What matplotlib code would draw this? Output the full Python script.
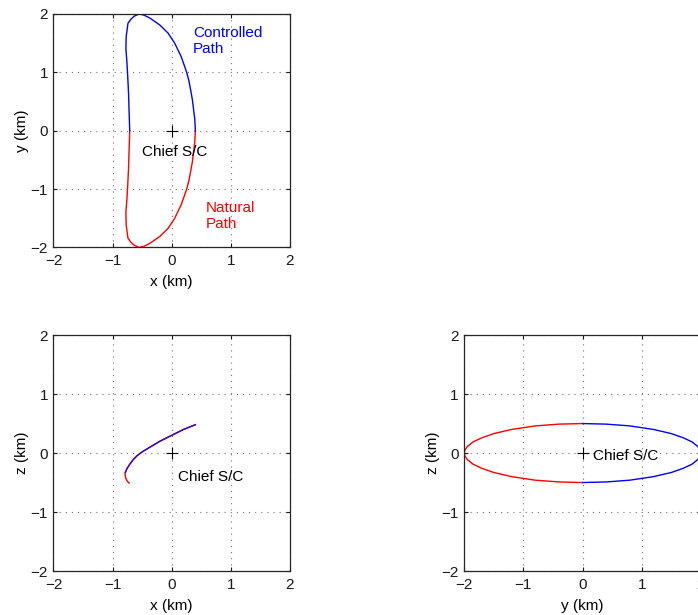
import matplotlib
matplotlib.use('Agg')
import matplotlib.pyplot as plt

plt.rcParams['font.family'] = ['Liberation Sans', 'DejaVu Sans']
plt.rcParams['font.size'] = 11

# x-y plane (km)
xy_ctrl_x = [0.40, 0.39, 0.37, 0.35, 0.32, 0.29, 0.25, 0.16, 0.05, -0.06, -0.20, -0.37,
             -0.47, -0.55, -0.63, -0.69, -0.74, -0.77, -0.775, -0.76, -0.745, -0.73,
             -0.72, -0.71]
xy_ctrl_y = [0.00, 0.20, 0.36, 0.53, 0.70, 0.86, 1.01, 1.27, 1.50, 1.67, 1.81, 1.93,
             1.98, 2.00, 1.965, 1.91, 1.84, 1.61, 1.40, 1.21, 0.95, 0.64,
             0.30, 0.00]
xy_nat_x = [-0.71, -0.72, -0.73, -0.745, -0.76, -0.775, -0.77, -0.74, -0.69, -0.63, -0.55,
            -0.47, -0.37, -0.20, -0.06, 0.05, 0.16, 0.25, 0.29, 0.32, 0.35, 0.37,
            0.39, 0.40]
xy_nat_y = [0.00, -0.30, -0.64, -0.95, -1.21, -1.40, -1.61, -1.84, -1.91, -1.965, -2.00,
            -1.98, -1.93, -1.81, -1.67, -1.50, -1.27, -1.01, -0.86, -0.70, -0.53, -0.36,
            -0.20, 0.00]

# x-z plane (km)
xz_nat_x = [0.40, 0.30, 0.20, 0.10, 0.00, -0.10, -0.20, -0.30, -0.40, -0.50, -0.58,
            -0.65, -0.71, -0.76, -0.79, -0.78, -0.75, -0.72]
xz_nat_z = [0.48, 0.44, 0.40, 0.35, 0.30, 0.25, 0.20, 0.14, 0.08, 0.02, -0.04,
            -0.11, -0.19, -0.27, -0.35, -0.42, -0.48, -0.51]
xz_ctrl_x = [0.40, 0.30, 0.20, 0.10, 0.00, -0.10, -0.20, -0.30, -0.40, -0.50, -0.58,
             -0.65, -0.71, -0.76, -0.785]
xz_ctrl_z = [0.48, 0.44, 0.40, 0.35, 0.30, 0.25, 0.20, 0.14, 0.08, 0.02, -0.04,
             -0.11, -0.19, -0.27, -0.33]

# y-z plane (km)
yz_ctrl_y = [0.0, 0.4, 0.8, 1.2, 1.5, 1.7, 1.85, 1.95, 1.99, 2.0,
             1.99, 1.95, 1.85, 1.7, 1.5, 1.2, 0.8, 0.4, 0.0]
yz_ctrl_z = [0.50, 0.49, 0.46, 0.40, 0.33, 0.26, 0.19, 0.11, 0.05, 0.00,
             -0.05, -0.11, -0.19, -0.26, -0.33, -0.40, -0.46, -0.49, -0.50]
yz_nat_y = [0.0, -0.4, -0.8, -1.2, -1.5, -1.7, -1.85, -1.95, -1.99, -2.0,
            -1.99, -1.95, -1.85, -1.7, -1.5, -1.2, -0.8, -0.4, 0.0]
yz_nat_z = [0.50, 0.49, 0.46, 0.40, 0.33, 0.26, 0.19, 0.11, 0.05, 0.00,
            -0.05, -0.11, -0.19, -0.26, -0.33, -0.40, -0.46, -0.49, -0.50]

ticks = [-2, -1, 0, 1, 2]

fig = plt.figure(figsize=(6.98, 6.15), dpi=100)
ax1 = fig.add_axes([0.0766, 0.5976, 0.3388, 0.3797])
ax2 = fig.add_axes([0.0766, 0.0715, 0.3388, 0.3837])
ax3 = fig.add_axes([0.6652, 0.0715, 0.3388, 0.3837])


def style(ax, xlabel, ylabel):
    ax.set_xlim(-2, 2)
    ax.set_ylim(-2, 2)
    ax.set_xticks(ticks)
    ax.set_yticks(ticks)
    ax.tick_params(direction='in', length=3, top=True, right=True, labelsize=11,
                   colors='0.1')
    ax.tick_params(axis='x', pad=5)
    ax.tick_params(axis='y', pad=4)
    ax.grid(True, linestyle=(0, (1, 4.5)), color='0.45', linewidth=0.8)
    for s in ax.spines.values():
        s.set_linewidth(0.9)
        s.set_color('0.15')
    ax.set_xlabel(xlabel, labelpad=5)
    ax.set_ylabel(ylabel, labelpad=1)
    ax.plot([0], [0], marker='+', color='k', markersize=8, markeredgewidth=0.8)


ax1.plot(xy_nat_x, xy_nat_y, color='red', lw=1)
ax1.plot(xy_ctrl_x, xy_ctrl_y, color='blue', lw=1)
style(ax1, 'x (km)', 'y (km)')
ax1.text(-0.51, -0.43, 'Chief S/C', va='baseline')
ax1.text(0.36, 1.80, 'Controlled\nPath', color='blue', va='top', linespacing=1.2)
ax1.text(0.57, -1.2, 'Natural\nPath', color='red', va='top', linespacing=1.2)

ax2.plot(xz_nat_x, xz_nat_z, color='red', lw=1)
ax2.plot(xz_ctrl_x, xz_ctrl_z, color='blue', lw=1, alpha=0.85)
style(ax2, 'x (km)', 'z (km)')
ax2.text(0.1, -0.47, 'Chief S/C', va='baseline')

ax3.plot(yz_nat_y, yz_nat_z, color='red', lw=1)
ax3.plot(yz_ctrl_y, yz_ctrl_z, color='blue', lw=1)
style(ax3, 'y (km)', 'z (km)')
ax3.text(0.18, -0.12, 'Chief S/C', va='baseline')

plt.savefig('out.png', dpi=100)
